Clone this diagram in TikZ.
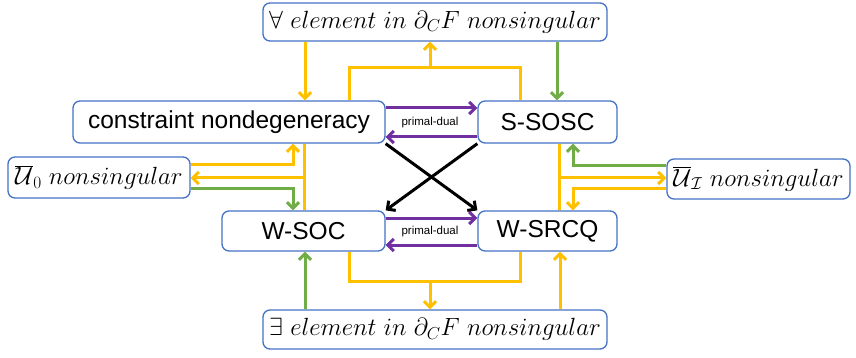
\documentclass[tikz,border=0pt]{standalone}
\usepackage{fontspec}
\setsansfont{Liberation Sans}
\usetikzlibrary{arrows.meta}
\definecolor{boxblue}{HTML}{4472C4}
\definecolor{gold}{HTML}{FFC000}
\definecolor{leaf}{HTML}{70AD47}
\definecolor{plum}{HTML}{7030A0}

\begin{document}
\begin{tikzpicture}[x=1pt,y=-1pt,
  box/.style={draw=boxblue, line width=1.3pt, rounded corners=7pt, fill=white,
    inner sep=0pt, font=\fontsize{24}{28}\selectfont},
  sbox/.style={box, font=\sffamily\fontsize{24.5}{28}\selectfont},
  wire/.style={line width=3pt},
  link/.style={wire, -{Straight Barb[length=6pt,width=12pt]}},
  pd/.style={font=\sffamily\fontsize{11.5}{13}\selectfont, inner sep=1pt}]
\useasboundingbox (0,0) rectangle (856,358);

% boxes
\node[box, minimum width=344pt, minimum height=38pt] (top) at (435,22)
  {$\forall\ element\ in\ \partial_C F\ nonsingular$};
\node[sbox, minimum width=312pt, minimum height=42pt] (cn) at (229,122) {constraint nondegeneracy};
\node[sbox, minimum width=139pt, minimum height=42pt] (ss) at (547.5,122) {S-SOSC};
\node[box, minimum width=182pt, minimum height=41pt] (u0) at (99,177.5)
  {$\overline{\mathcal{U}}_0\ nonsingular$};
\node[box, minimum width=183pt, minimum height=40pt] (ui) at (758.5,179)
  {$\overline{\mathcal{U}}_{\mathcal{I}}\ nonsingular$};
\node[sbox, minimum width=163pt, minimum height=40pt] (ws) at (303.5,231) {W-SOC};
\node[sbox, minimum width=139pt, minimum height=40pt] (wr) at (547.5,231) {W-SRCQ};
\node[box, minimum width=344pt, minimum height=39pt] (bot) at (435,329.5)
  {$\exists\ element\ in\ \partial_C F\ nonsingular$};

% column and row guides
\coordinate (xA) at (305,0);
\coordinate (xB) at (349,0);
\coordinate (xM) at (430,0);
\coordinate (xC) at (520,0);
\coordinate (xD) at (557,0);
\coordinate (xE) at (560,0);
\coordinate (xL1) at (293,0);
\coordinate (xL2) at (304,0);
\coordinate (xR1) at (559,0);
\coordinate (xR2) at (573,0);
\coordinate (yT) at (0,68);
\coordinate (yB) at (0,281);
\coordinate (yP1) at (0,108);
\coordinate (yP2) at (0,137);
\coordinate (yP3) at (0,218);
\coordinate (yP4) at (0,245);
\coordinate (yL1) at (0,165);
\coordinate (yL2) at (0,178);
\coordinate (yL3) at (0,189);
\coordinate (yR1) at (0,166);
\coordinate (yR2) at (0,178);
\coordinate (yR3) at (0,189);

% top connections
\draw[link, gold] (top.south -| xA) -- (cn.north -| xA);
\draw[link, leaf] (top.south -| xD) -- (ss.north -| xD);
\draw[wire, gold] (cn.north -| xB) -- (xB |- yT) -- (xC |- yT) -- (ss.north -| xC);
\draw[link, gold] (xM |- yT) -- (top.south -| xM);

% primal-dual pairs
\draw[link, plum] (cn.east |- yP1) -- (ss.west |- yP1);
\draw[link, plum] (ss.west |- yP2) -- (cn.east |- yP2);
\node[pd] (pd1) at (430,123) {primal-dual};
\draw[link, plum] (ws.east |- yP3) -- (wr.west |- yP3);
\draw[link, plum] (wr.west |- yP4) -- (ws.east |- yP4);
\node[pd] (pd2) at (430,232) {primal-dual};

% crossing implications
\draw[link, black] (cn.south east) -- (wr.north west);
\draw[link, black] (ss.south west) -- (ws.north east);

% left side
\draw[wire, gold] (cn.south -| xL2) -- (ws.north -| xL2);
\draw[link, gold] (u0.east |- yL1) -- (xL1 |- yL1) -- (cn.south -| xL1);
\draw[link, gold] (xL2 |- yL2) -- (u0.east |- yL2);
\draw[link, leaf] (u0.east |- yL3) -- (xL1 |- yL3) -- (ws.north -| xL1);

% right side
\draw[wire, gold] (ss.south -| xR1) -- (wr.north -| xR1);
\draw[link, leaf] (ui.west |- yR1) -- (xR2 |- yR1) -- (ss.south -| xR2);
\draw[link, gold] (xR1 |- yR2) -- (ui.west |- yR2);
\draw[link, gold] (ui.west |- yR3) -- (xR2 |- yR3) -- (wr.north -| xR2);

% bottom connections
\draw[link, leaf] (bot.north -| xA) -- (ws.south -| xA);
\draw[wire, gold] (ws.south -| xB) -- (xB |- yB) -- (xC |- yB) -- (wr.south -| xC);
\draw[link, gold] (xM |- yB) -- (bot.north -| xM);
\draw[link, gold] (bot.north -| xE) -- (wr.south -| xE);
\end{tikzpicture}
\end{document}
